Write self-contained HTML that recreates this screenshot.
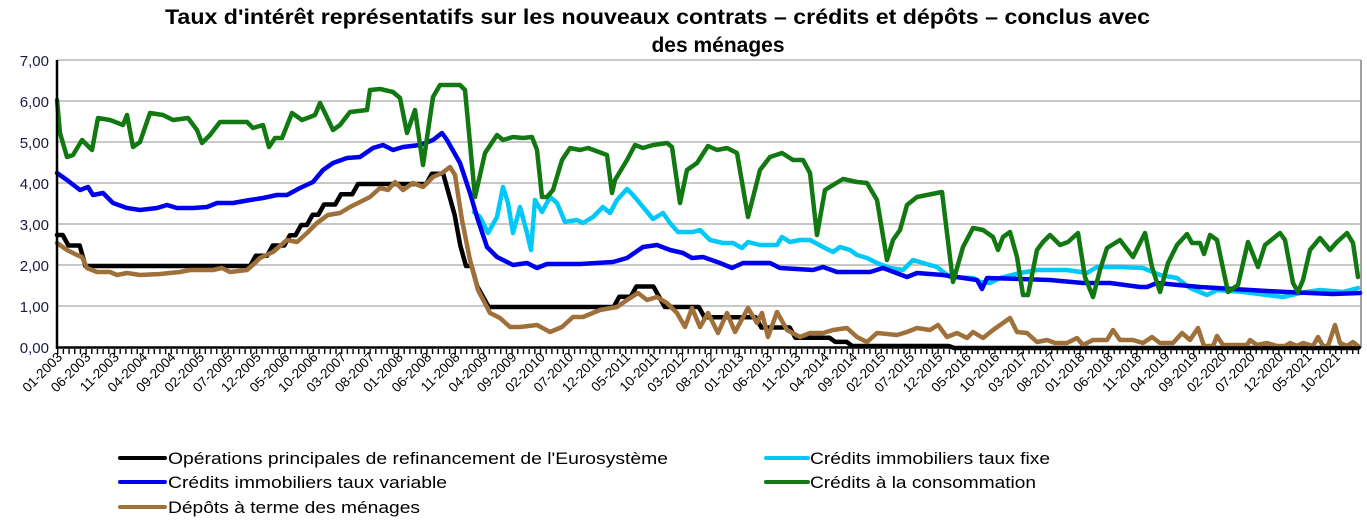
<!DOCTYPE html>
<html><head><meta charset="utf-8"><style>
html,body{margin:0;padding:0;background:#fff;}
svg{display:block;font-family:"Liberation Sans",Arial,sans-serif;}
</style></head><body>
<svg width="1367" height="520" viewBox="0 0 1367 520" xmlns="http://www.w3.org/2000/svg">
<text x="165" y="24" font-size="21" font-weight="bold" fill="#000" textLength="985" lengthAdjust="spacingAndGlyphs">Taux d'intérêt représentatifs sur les nouveaux contrats – crédits et dépôts – conclus avec</text>
<text x="718" y="52" font-size="21" font-weight="bold" text-anchor="middle" fill="#000">des ménages</text>
<g stroke="#c8c8c8" stroke-width="2">
<line x1="57" y1="60" x2="1361" y2="60"/><line x1="57" y1="101" x2="1361" y2="101"/><line x1="57" y1="142" x2="1361" y2="142"/><line x1="57" y1="183" x2="1361" y2="183"/><line x1="57" y1="224" x2="1361" y2="224"/><line x1="57" y1="265" x2="1361" y2="265"/><line x1="57" y1="306" x2="1361" y2="306"/>
</g>
<line x1="1361" y1="60" x2="1361" y2="348" stroke="#a0a0a0" stroke-width="2"/>
<g font-size="15" fill="#1a1a40" text-anchor="end">
<text x="49" y="66">7,00</text><text x="49" y="107">6,00</text><text x="49" y="148">5,00</text><text x="49" y="189">4,00</text><text x="49" y="230">3,00</text><text x="49" y="271">2,00</text><text x="49" y="312">1,00</text><text x="49" y="353">0,00</text>
</g>
<g fill="none" stroke-width="4.5" stroke-linejoin="round" stroke-linecap="round">
<polyline stroke="#00c8f8" points="474,212 480,217 488,233 497,217 503,187 508,203 513,233 520,207 527,233 531,250 535,200 542,212 550,197 557,203 565,222 577,220 583,223 593,217 603,207 610,213 617,200 627,189 633,195 643,207 653,219 663,213 670,223 678,232 693,232 700,230 710,240 723,243 733,243 742,248 748,242 760,245 777,245 782,237 790,242 800,240 810,240 823,247 833,252 840,247 850,250 857,255 867,258 877,263 890,268 903,270 913,260 923,263 937,267 950,277 973,278 980,282 990,283 1000,278 1020,273 1037,270 1067,270 1087,273 1097,267 1120,267 1143,268 1160,275 1177,278 1190,288 1207,295 1217,290 1243,292 1267,295 1283,297 1300,293 1320,290 1343,292 1358,288"/>
<polyline stroke="#0000f0" points="57,173 67,180 80,190 88,187 93,195 103,193 113,203 127,208 140,210 157,208 167,205 177,208 193,208 207,207 217,203 233,203 250,200 263,198 277,195 287,195 300,188 313,182 323,170 333,163 347,158 360,157 373,148 383,145 393,150 403,147 420,145 433,140 442,133 447,140 460,163 470,193 477,217 487,247 497,257 507,262 513,265 527,263 537,268 547,264 580,264 613,262 627,258 643,247 657,245 670,250 683,253 692,258 703,257 720,263 732,268 743,263 770,263 780,268 813,270 823,267 837,272 870,272 883,268 907,277 917,273 943,275 977,280 982,289 987,278 1020,279 1050,280 1083,283 1110,283 1140,287 1147,287 1157,283 1200,287 1233,289 1267,291 1287,292 1310,293 1333,294 1360,293"/>
<polyline stroke="#127812" points="57,100 60,133 67,157 73,155 82,140 92,150 98,118 110,120 123,125 127,115 133,147 140,142 150,113 163,115 173,120 188,118 197,130 202,143 210,135 220,122 247,122 253,128 263,125 269,147 275,138 282,138 292,113 302,120 310,117 315,115 320,103 325,113 333,130 340,125 350,112 367,110 370,90 380,89 393,92 400,98 407,133 415,110 423,165 433,97 440,85 460,85 465,90 475,197 485,153 497,135 503,140 513,137 523,138 532,137 537,150 542,197 547,197 553,190 562,160 570,148 580,150 588,148 607,155 612,193 615,180 627,160 635,145 643,148 653,145 667,143 672,147 680,203 687,170 697,163 708,146 717,150 727,148 737,153 748,217 760,170 770,157 782,153 793,160 803,160 810,173 817,235 825,190 833,185 843,179 857,182 867,183 877,200 887,260 893,240 900,230 907,205 917,197 927,195 942,192 947,233 953,282 963,247 973,228 983,230 993,237 998,250 1003,237 1010,232 1017,257 1023,295 1028,295 1037,250 1043,242 1050,235 1060,245 1068,242 1078,233 1085,277 1093,297 1100,270 1107,248 1120,240 1133,257 1145,233 1152,267 1160,292 1168,263 1177,245 1187,234 1192,243 1200,243 1204,254 1210,235 1217,240 1228,292 1238,285 1248,242 1258,267 1265,245 1280,233 1285,240 1293,283 1298,292 1303,280 1310,250 1320,238 1330,250 1337,242 1347,233 1353,243 1358,277"/>
<polyline stroke="#000" points="57,235 62.7,235 68.4,245.5 79.7,245.5 85.4,266 250.1,266 255.8,255.75 267.1,255.75 272.8,245.5 284.2,245.5 289.9,235.25 295.5,235.25 301.2,225 306.9,225 312.6,214.75 318.3,214.75 324,204.5 335.3,204.5 341,194.25 352.3,194.25 358,184 426.2,184 431.9,173.75 443.2,173.75 448.9,194.25 454.6,214.75 460.3,245.5 466,266 471.6,266 477.3,286.5 483,296.75 488.7,307 613.6,307 619.3,296.75 630.7,296.75 636.4,286.5 653.4,286.5 659.1,296.75 664.8,307 698.8,307 704.5,317.25 755.6,317.25 761.3,327.5 789.7,327.5 795.4,337.75 829.5,337.75 835.2,341.85 846.5,341.85 852.2,345.95 948.7,345.95 954.4,348 1358,348"/>
<polyline stroke="#a0703a" points="57,243 67,250 77,255 82,257 87,268 97,272 110,272 117,275 127,273 140,275 160,274 180,272 190,270 213,270 222,268 230,272 247,270 255,263 260,258 273,252 287,240 297,242 307,233 317,223 328,215 340,213 350,207 360,202 370,197 380,188 388,190 395,182 403,190 413,183 423,187 433,177 442,173 450,167 455,175 462,220 470,260 478,290 490,313 500,318 510,327 520,327 537,325 550,332 562,327 573,317 583,317 600,310 617,307 627,300 638,293 647,300 657,297 667,303 677,313 685,327 692,308 700,327 708,313 718,333 727,313 735,332 748,308 757,323 762,313 768,337 777,312 787,330 800,337 810,333 823,333 833,330 847,328 857,337 867,342 877,333 897,335 907,332 917,328 930,330 938,325 947,337 957,333 967,338 973,332 983,338 993,330 1003,323 1010,318 1017,332 1027,333 1037,342 1047,340 1055,343 1067,343 1077,338 1083,345 1093,340 1107,340 1113,330 1120,340 1133,340 1143,343 1152,337 1160,343 1173,343 1182,333 1190,340 1198,328 1204,346 1213,346 1217,336 1223,345 1247,345 1250,340 1257,345 1267,343 1277,346 1285,346 1290,343 1297,346 1303,343 1313,346 1318,337 1323,346 1328,346 1335,325 1340,343 1347,346 1353,342 1358,346"/>
</g>
<line x1="57" y1="60" x2="57" y2="349" stroke="#000" stroke-width="2.5"/>
<line x1="56" y1="347.5" x2="1361" y2="347.5" stroke="#000" stroke-width="2.5"/>
<line x1="57" y1="351.5" x2="1362" y2="351.5" stroke="#000" stroke-width="5" stroke-dasharray="1.4 4.28"/>
<g font-size="13.5" fill="#000" text-anchor="end">
<text transform="translate(63,358) rotate(-45)">01-2003</text>
<text transform="translate(91.4,358) rotate(-45)">06-2003</text>
<text transform="translate(119.8,358) rotate(-45)">11-2003</text>
<text transform="translate(148.2,358) rotate(-45)">04-2004</text>
<text transform="translate(176.6,358) rotate(-45)">09-2004</text>
<text transform="translate(205,358) rotate(-45)">02-2005</text>
<text transform="translate(233.4,358) rotate(-45)">07-2005</text>
<text transform="translate(261.8,358) rotate(-45)">12-2005</text>
<text transform="translate(290.2,358) rotate(-45)">05-2006</text>
<text transform="translate(318.6,358) rotate(-45)">10-2006</text>
<text transform="translate(347,358) rotate(-45)">03-2007</text>
<text transform="translate(375.4,358) rotate(-45)">08-2007</text>
<text transform="translate(403.8,358) rotate(-45)">01-2008</text>
<text transform="translate(432.2,358) rotate(-45)">06-2008</text>
<text transform="translate(460.6,358) rotate(-45)">11-2008</text>
<text transform="translate(489,358) rotate(-45)">04-2009</text>
<text transform="translate(517.4,358) rotate(-45)">09-2009</text>
<text transform="translate(545.8,358) rotate(-45)">02-2010</text>
<text transform="translate(574.2,358) rotate(-45)">07-2010</text>
<text transform="translate(602.6,358) rotate(-45)">12-2010</text>
<text transform="translate(631,358) rotate(-45)">05-2011</text>
<text transform="translate(659.4,358) rotate(-45)">10-2011</text>
<text transform="translate(687.8,358) rotate(-45)">03-2012</text>
<text transform="translate(716.2,358) rotate(-45)">08-2012</text>
<text transform="translate(744.6,358) rotate(-45)">01-2013</text>
<text transform="translate(773,358) rotate(-45)">06-2013</text>
<text transform="translate(801.4,358) rotate(-45)">11-2013</text>
<text transform="translate(829.8,358) rotate(-45)">04-2014</text>
<text transform="translate(858.2,358) rotate(-45)">09-2014</text>
<text transform="translate(886.6,358) rotate(-45)">02-2015</text>
<text transform="translate(915,358) rotate(-45)">07-2015</text>
<text transform="translate(943.4,358) rotate(-45)">12-2015</text>
<text transform="translate(971.8,358) rotate(-45)">05-2016</text>
<text transform="translate(1000.2,358) rotate(-45)">10-2016</text>
<text transform="translate(1028.6,358) rotate(-45)">03-2017</text>
<text transform="translate(1057,358) rotate(-45)">08-2017</text>
<text transform="translate(1085.4,358) rotate(-45)">01-2018</text>
<text transform="translate(1113.8,358) rotate(-45)">06-2018</text>
<text transform="translate(1142.2,358) rotate(-45)">11-2018</text>
<text transform="translate(1170.6,358) rotate(-45)">04-2019</text>
<text transform="translate(1199,358) rotate(-45)">09-2019</text>
<text transform="translate(1227.4,358) rotate(-45)">02-2020</text>
<text transform="translate(1255.8,358) rotate(-45)">07-2020</text>
<text transform="translate(1284.2,358) rotate(-45)">12-2020</text>
<text transform="translate(1312.6,358) rotate(-45)">05-2021</text>
<text transform="translate(1341,358) rotate(-45)">10-2021</text>
</g>
<g stroke-width="4" stroke-linecap="round">
<line x1="120" y1="458" x2="165" y2="458" stroke="#000"/>
<line x1="120" y1="482" x2="165" y2="482" stroke="#0000f0"/>
<line x1="120" y1="507" x2="165" y2="507" stroke="#a0703a"/>
<line x1="766" y1="458" x2="808" y2="458" stroke="#00c8f8"/>
<line x1="766" y1="482" x2="808" y2="482" stroke="#127812"/>
</g>
<g font-size="17" fill="#000">
<text x="168" y="464" textLength="500" lengthAdjust="spacingAndGlyphs">Opérations principales de refinancement de l'Eurosystème</text>
<text x="168" y="488" textLength="279" lengthAdjust="spacingAndGlyphs">Crédits immobiliers taux variable</text>
<text x="168" y="513" textLength="252" lengthAdjust="spacingAndGlyphs">Dépôts à terme des ménages</text>
<text x="810" y="464" textLength="240" lengthAdjust="spacingAndGlyphs">Crédits immobiliers taux fixe</text>
<text x="810" y="488" textLength="226" lengthAdjust="spacingAndGlyphs">Crédits à la consommation</text>
</g>
</svg>
</body></html>
